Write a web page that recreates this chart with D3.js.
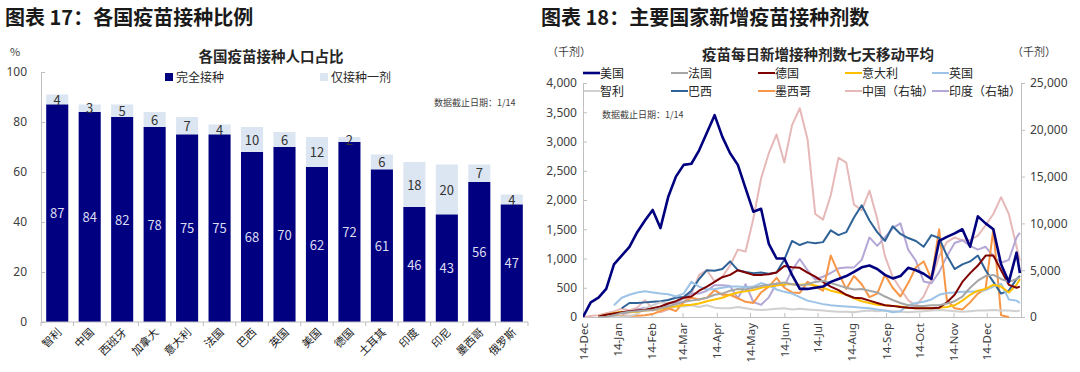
<!DOCTYPE html>
<html>
<head>
<meta charset="utf-8">
<script src="https://cdn.jsdelivr.net/npm/d3@7"></script>
<style>
  body { margin: 0; background: #fff; }
  svg { display: block; font-family: "Noto Sans CJK SC", "Noto Sans", sans-serif; }
</style>
</head>
<body>
<svg id="chart" width="1080" height="372"></svg>
<script>
// ---- figure 17: share of population vaccinated (%) ----
const countries = ['智利', '中国', '西班牙', '加拿大', '意大利', '法国', '巴西', '英国', '美国', '德国', '土耳其', '印度', '印尼', '墨西哥', '俄罗斯'];
const fullDose = [87, 84, 82, 78, 75, 75, 68, 70, 62, 72, 61, 46, 43, 56, 47];
const oneDose = [4, 3, 5, 6, 7, 4, 10, 6, 12, 2, 6, 18, 20, 7, 4];
const pctTicks = [0, 20, 40, 60, 80, 100];

// ---- figure 18: 7-day average of daily doses (thousand doses) ----
// one value per week from 2020-12-14, last value is 2022-01-13
const usa = [0, 250, 330, 480, 900, 1050, 1200, 1450, 1650, 1830, 1520, 2050, 2400, 2600, 2620, 2850, 3150, 3450, 3080, 2800, 2600, 2200, 1800, 1850, 1250, 1000, 1000, 720, 480, 480, 500, 520, 600, 650, 700, 770, 850, 880, 820, 720, 660, 700, 840, 800, 740, 650, 1300, 1370, 1430, 1500, 1200, 1720, 1600, 1500, 900, 600, 1100, 750];
const france = [null, null, 0, 5, 30, 70, 90, 100, 110, 120, 150, 180, 220, 260, 280, 300, 330, 380, 400, 450, 480, 470, 500, 530, 550, 570, 590, 560, 540, 560, 600, 620, 580, 540, 500, 470, 480, 450, 420, 350, 290, 240, 200, 190, 190, 200, 200, 230, 270, 350, 500, 620, 700, 720, 650, 600, 650, 680];
const germany = [null, null, 10, 40, 60, 80, 100, 110, 120, 150, 180, 230, 270, 330, 350, 450, 520, 600, 680, 720, 800, 760, 720, 720, 730, 760, 870, 850, 840, 760, 690, 600, 520, 460, 380, 330, 320, 280, 240, 200, 190, 170, 160, 150, 150, 150, 160, 250, 380, 600, 750, 880, 1050, 1050, 800, 550, 500, 520];
const italy = [null, null, 10, 40, 70, 90, 80, 90, 110, 120, 140, 170, 180, 200, 210, 230, 270, 300, 330, 380, 420, 440, 460, 500, 520, 540, 560, 560, 550, 560, 540, 500, 450, 420, 380, 320, 270, 240, 210, 200, 190, 180, 160, 150, 150, 150, 160, 170, 200, 280, 380, 450, 480, 550, 520, 420, 550, 650];
const uk = [null, null, null, null, 200, 330, 380, 420, 440, 420, 400, 390, 350, 400, 600, 520, 470, 480, 500, 520, 520, 510, 520, 580, 540, 470, 430, 400, 340, 280, 250, 220, 200, 190, 180, 170, 160, 150, 130, 110, 80, 100, 200, 240, 260, 300, 380, 410, 420, 430, 430, 440, 460, 520, 570, 300, 280, 240];
const chile = [null, null, 0, 0, 10, 10, 15, 50, 150, 200, 250, 230, 190, 180, 200, 170, 200, 160, 150, 150, 170, 150, 130, 120, 130, 140, 150, 130, 140, 130, 120, 110, 100, 90, 90, 80, 100, 110, 100, 110, 100, 90, 80, 90, 100, 110, 120, 110, 100, 90, 100, 110, 110, 120, 110, 110, 100, 110];
const brazil = [null, null, null, null, null, 150, 240, 240, 250, 260, 270, 290, 330, 340, 450, 650, 800, 790, 820, 950, 800, 770, 750, 760, 740, 760, 980, 1300, 1230, 1280, 1260, 1280, 1480, 1400, 1450, 1700, 1910, 1650, 1450, 1300, 1550, 1420, 1350, 1300, 1200, 1400, 1350, 1050, 820, 900, 950, 1050, 800, 600, 400, 450, 650, 700];
const mexico = [null, null, 0, 5, 20, 20, 20, 20, 30, 50, 100, 150, 100, 250, 330, 300, 330, 460, 380, 380, 320, 260, 240, 420, 520, 670, 500, 420, 410, 600, 520, 450, 1050, 750, 480, 700, 560, 340, 400, 720, 500, 350, 580, 850, 950, 650, 1500, 290, 150, 130, 250, 400, 480, 1500, 30, 0, null, null];
// right axis
const china = [0, 100, 200, 400, 600, 900, 700, 1000, 1800, 900, 500, 800, 1200, 1600, 2500, 4500, 5000, 3800, 4300, 5500, 7200, 7000, 10500, 14800, 17500, 19500, 16500, 20500, 22300, 19000, 11000, 10400, 13000, 17000, 16500, 12000, 11400, 13500, 10500, 6500, 4300, 3000, 1800, 1200, 2200, 4000, 6500, 8000, 8500, 8200, 8200, 8700, 9800, 11000, 12800, 11000, 7500, 6000];
const india = [null, null, null, null, null, 300, 500, 800, 1000, 700, 1000, 1300, 1500, 2000, 2500, 2500, 2800, 3400, 3400, 3300, 2000, 3500, 1600, 1300, 2100, 3600, 3300, 5000, 6200, 5000, 4000, 4300, 4700, 5200, 5300, 5300, 6100, 8500, 7600, 8500, 9500, 10000, 7200, 6000, 3800, 3600, 4800, 6500, 7900, 8200, 7600, 7200, 7500, 6500, 5800, 6100, 8500, 9000];

const monthTicks = ['2020-12-14', '2021-01-14', '2021-02-14', '2021-03-14', '2021-04-14', '2021-05-14', '2021-06-14', '2021-07-14', '2021-08-14', '2021-09-14', '2021-10-14', '2021-11-14', '2021-12-14'];
const leftDoseTicks = [0, 500, 1000, 1500, 2000, 2500, 3000, 3500, 4000];
const rightDoseTicks = [0, 5000, 10000, 15000, 20000, 25000];

const parse = d3.timeParse('%Y-%m-%d');
const weekDates = d3.range(57).map((i) => d3.timeDay.offset(parse('2020-12-14'), i * 7));
weekDates.push(parse('2022-01-13'));

const seriesList = [
  { name: '美国', values: usa, color: '#00007f', width: 2.6, axis: 'L' },
  { name: '法国', values: france, color: '#a6a6a6', width: 2, axis: 'L' },
  { name: '德国', values: germany, color: '#7f0000', width: 2, axis: 'L' },
  { name: '意大利', values: italy, color: '#ffc000', width: 2, axis: 'L' },
  { name: '英国', values: uk, color: '#9dc3e6', width: 2, axis: 'L' },
  { name: '智利', values: chile, color: '#d0d0d0', width: 2, axis: 'L' },
  { name: '巴西', values: brazil, color: '#2f6397', width: 2, axis: 'L' },
  { name: '墨西哥', values: mexico, color: '#f79646', width: 2, axis: 'L' },
  { name: '中国（右轴）', values: china, color: '#e6b9b8', width: 2, axis: 'R' },
  { name: '印度（右轴）', values: india, color: '#b4a7d6', width: 2, axis: 'R' },
];

const svg = d3.select('#chart');
const textCol = '#404040';
const axisCol = '#bfbfbf';

// headings
svg.append('text').attr('x', 5).attr('y', 25).attr('font-size', 20).attr('font-weight', 'bold')
  .attr('fill', '#1a1a1a').text('图表 17：各国疫苗接种比例');
svg.append('text').attr('x', 541).attr('y', 25).attr('font-size', 20).attr('font-weight', 'bold')
  .attr('fill', '#1a1a1a').text('图表 18：主要国家新增疫苗接种剂数');

// ================= left chart =================
const left = svg.append('g');
const xBand = d3.scaleBand().domain(countries).range([41, 528]).paddingInner(0.32).paddingOuter(0.16);
const yPct = d3.scaleLinear().domain([0, 100]).range([322, 72]);

left.append('text').attr('x', 10).attr('y', 56).attr('font-size', 11).attr('fill', textCol).text('%');
left.append('text').attr('x', 271).attr('y', 62).attr('text-anchor', 'middle').attr('font-size', 14.5)
  .attr('font-weight', 'bold').attr('fill', '#262626').text('各国疫苗接种人口占比');

// legend
left.append('rect').attr('x', 165).attr('y', 73).attr('width', 8).attr('height', 8).attr('fill', '#000080');
left.append('text').attr('x', 176).attr('y', 81.5).attr('font-size', 12).attr('fill', '#262626').text('完全接种');
left.append('rect').attr('x', 320).attr('y', 73).attr('width', 8).attr('height', 8).attr('fill', '#dce6f2');
left.append('text').attr('x', 331).attr('y', 81.5).attr('font-size', 12).attr('fill', '#262626').text('仅接种一剂');
left.append('text').attr('x', 434).attr('y', 106).attr('font-size', 9).attr('fill', '#404040').text('数据截止日期：1/14');

const yAxisL = left.append('g').attr('transform', 'translate(41,0)')
  .call(d3.axisLeft(yPct).tickValues(pctTicks).tickSize(-4).tickPadding(14));
yAxisL.select('.domain').attr('stroke', axisCol);
yAxisL.selectAll('.tick line').attr('stroke', axisCol);
yAxisL.selectAll('.tick text').attr('font-size', 12).attr('fill', textCol).attr('font-family', '"Noto Sans", sans-serif');

const bars = countries.map((c, i) => ({ c, full: fullDose[i], one: oneDose[i] }));

left.append('g').selectAll('rect').data(bars).join('rect')
  .attr('x', (d) => xBand(d.c)).attr('width', xBand.bandwidth())
  .attr('y', (d) => yPct(d.full + d.one)).attr('height', (d) => yPct(d.full) - yPct(d.full + d.one))
  .attr('fill', '#dce6f2');
left.append('g').selectAll('rect').data(bars).join('rect')
  .attr('x', (d) => xBand(d.c)).attr('width', xBand.bandwidth())
  .attr('y', (d) => yPct(d.full)).attr('height', (d) => yPct(0) - yPct(d.full))
  .attr('fill', '#000080');

left.append('g').selectAll('text').data(bars).join('text')
  .attr('x', (d) => xBand(d.c) + xBand.bandwidth() / 2)
  .attr('y', (d) => (yPct(d.full) + yPct(0)) / 2 + 5)
  .attr('text-anchor', 'middle').attr('font-size', 13).attr('fill', '#dcdcf2')
  .text((d) => d.full);
left.append('g').selectAll('text').data(bars).join('text')
  .attr('x', (d) => xBand(d.c) + xBand.bandwidth() / 2)
  .attr('y', (d) => (yPct(d.full) + yPct(d.full + d.one)) / 2 + 5)
  .attr('text-anchor', 'middle').attr('font-size', 13).attr('fill', '#333')
  .text((d) => d.one);

// x axis
left.append('line').attr('x1', 41).attr('x2', 528).attr('y1', 322).attr('y2', 322).attr('stroke', axisCol);
left.append('g').selectAll('line').data(d3.range(countries.length + 1)).join('line')
  .attr('x1', (i) => 41 + i * xBand.step()).attr('x2', (i) => 41 + i * xBand.step())
  .attr('y1', 322).attr('y2', 326).attr('stroke', axisCol);
left.append('g').selectAll('text').data(countries).join('text')
  .attr('transform', (d) => `translate(${xBand(d) + xBand.bandwidth() / 2 + 5},333) rotate(-45)`)
  .attr('text-anchor', 'end').attr('font-size', 11).attr('fill', '#1a1a1a')
  .text((d) => d);

// ================= right chart =================
const right = svg.append('g');
const xTime = d3.scaleTime().domain([parse('2020-12-14'), parse('2022-01-14')]).range([583, 1021]);
const yDose = d3.scaleLinear().domain([0, 4000]).range([317, 83]);
const yDoseR = d3.scaleLinear().domain([0, 25000]).range([317, 83]);

right.append('text').attr('x', 818).attr('y', 60).attr('text-anchor', 'middle').attr('font-size', 14.5)
  .attr('font-weight', 'bold').attr('fill', '#262626').text('疫苗每日新增接种剂数七天移动平均');
right.append('text').attr('x', 547).attr('y', 56).attr('font-size', 11).attr('fill', textCol).text('（千剂）');
right.append('text').attr('x', 1012).attr('y', 56).attr('font-size', 11).attr('fill', textCol).text('（千剂）');
right.append('text').attr('x', 602).attr('y', 118).attr('font-size', 9).attr('fill', '#404040').text('数据截止日期：1/14');

// legend
const legendCols = [583, 671, 758, 845, 932];
const legend = right.append('g').selectAll('g').data(seriesList).join('g')
  .attr('transform', (d, i) => `translate(${legendCols[i % 5]},${i < 5 ? 73 : 91})`);
legend.append('line').attr('x1', 0).attr('x2', 17).attr('stroke', (d) => d.color).attr('stroke-width', (d) => d.width);
legend.append('text').attr('x', 17).attr('y', 4.5).attr('font-size', 12).attr('fill', '#262626').text((d) => d.name);

// axes
const yAxisD = right.append('g').attr('transform', 'translate(583,0)')
  .call(d3.axisLeft(yDose).tickValues(leftDoseTicks).tickFormat(d3.format(',')).tickSize(-4).tickPadding(6));
const yAxisR = right.append('g').attr('transform', 'translate(1021,0)')
  .call(d3.axisRight(yDoseR).tickValues(rightDoseTicks).tickFormat(d3.format(',')).tickSize(4).tickPadding(5));
const xAxisD = right.append('g').attr('transform', 'translate(0,317)')
  .call(d3.axisBottom(xTime).tickValues(monthTicks.map(parse)).tickFormat(d3.timeFormat('%d-%b')).tickSize(-4).tickPadding(6));
[yAxisD, yAxisR, xAxisD].forEach((ax) => {
  ax.select('.domain').attr('stroke', axisCol);
  ax.selectAll('.tick line').attr('stroke', axisCol);
  ax.selectAll('.tick text').attr('font-size', 12).attr('fill', textCol).attr('font-family', '"Noto Sans", sans-serif');
});
xAxisD.selectAll('.tick text')
  .attr('font-size', 11.5)
  .attr('text-anchor', 'end')
  .attr('transform', 'rotate(-90)')
  .attr('x', -6).attr('y', 0).attr('dy', '0.35em');

right.append('clipPath').attr('id', 'plot-clip').append('rect')
  .attr('x', 583).attr('y', 80).attr('width', 438).attr('height', 240);

const plot = right.append('g').attr('clip-path', 'url(#plot-clip)');
const drawOrder = [...seriesList.filter((s) => s.axis === 'R'), ...seriesList.filter((s) => s.axis === 'L').reverse()];
drawOrder.forEach((s) => {
  const yS = s.axis === 'R' ? yDoseR : yDose;
  const pts = weekDates.map((date, i) => ({ date, v: s.values[i] }));
  plot.append('path')
    .datum(pts)
    .attr('fill', 'none')
    .attr('stroke', s.color)
    .attr('stroke-width', s.width)
    .attr('stroke-linejoin', 'round')
    .attr('d', d3.line().defined((d) => d.v != null).x((d) => xTime(d.date)).y((d) => yS(d.v)));
});
</script>
</body>
</html>
